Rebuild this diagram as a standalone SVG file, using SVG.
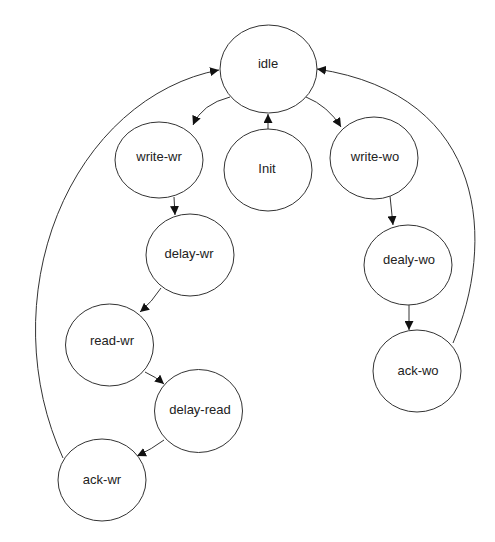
<svg xmlns="http://www.w3.org/2000/svg" width="495" height="542" viewBox="0 0 495 542">
<style>
.n ellipse{fill:#fff;stroke:#333;stroke-width:1}
.n text{font-family:"Liberation Sans",Arial,sans-serif;font-size:13px;fill:#222;text-anchor:middle;dominant-baseline:central}
.e path{fill:none;stroke:#333;stroke-width:1;marker-end:url(#ah)}
</style>
<defs>
<marker id="ah" viewBox="0 0 10 10" refX="10" refY="5" markerWidth="9" markerHeight="9" markerUnits="userSpaceOnUse" orient="auto">
<path d="M0,0 L10,5 L0,10 z" fill="#111"/>
</marker>
</defs>
<rect width="495" height="542" fill="#fff"/>
<g id="connectors" class="e">
<path d="M268,129 L268,114"/>
<path d="M230,97 Q202,104 193,125"/>
<path d="M306,97 Q328,106 341,127"/>
<path d="M174,197 L175,215"/>
<path d="M390,196 L393,225"/>
<path d="M161,288 Q152,302 140,312"/>
<path d="M145,372 Q156,377 164,384"/>
<path d="M164,440 Q152,449 137,456"/>
<path d="M409,305 L409,330"/>
<path d="M63,458 A217,263 0 0 1 219,70"/>
<path d="M453,343 C495,245 490,95 317,69"/>
</g>
<g id="idle" class="n"><ellipse cx="268.5" cy="69" rx="48.5" ry="44"/><text x="268" y="63">idle</text></g>
<g id="write-wr" class="n"><ellipse cx="159" cy="160" rx="44" ry="38"/><text x="159" y="156">write-wr</text></g>
<g id="init" class="n"><ellipse cx="268" cy="170" rx="44" ry="41"/><text x="267" y="168">Init</text></g>
<g id="write-wo" class="n"><ellipse cx="374" cy="158" rx="44" ry="41"/><text x="375" y="156">write-wo</text></g>
<g id="delay-wr" class="n"><ellipse cx="190" cy="255" rx="44" ry="41"/><text x="189" y="253">delay-wr</text></g>
<g id="read-wr" class="n"><ellipse cx="109.5" cy="345" rx="44" ry="41"/><text x="112" y="340">read-wr</text></g>
<g id="delay-read" class="n"><ellipse cx="198.5" cy="411" rx="44" ry="41.5"/><text x="200" y="409">delay-read</text></g>
<g id="ack-wr" class="n"><ellipse cx="102" cy="480" rx="44" ry="41"/><text x="102" y="479">ack-wr</text></g>
<g id="dealy-wo" class="n"><ellipse cx="408" cy="265" rx="44" ry="40"/><text x="409" y="259">dealy-wo</text></g>
<g id="ack-wo" class="n"><ellipse cx="417" cy="371" rx="44" ry="41"/><text x="418" y="370">ack-wo</text></g>
</svg>
